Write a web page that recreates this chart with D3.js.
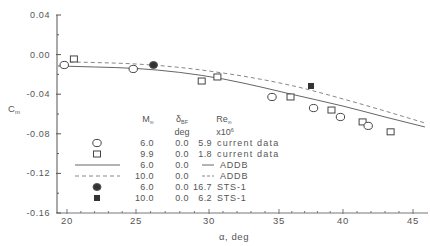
<!DOCTYPE html>
<html><head><meta charset="utf-8">
<script src="https://cdn.jsdelivr.net/npm/d3@7"></script>
<style>html,body{margin:0;padding:0;background:#fff}svg{display:block}text{font-family:"Liberation Sans",Arial,sans-serif;fill:#555}</style>
</head><body><div id="chart"></div>
<script>
// ---- data ----
const xTicks = [20, 25, 30, 35, 40, 45];
const xTickLabels = ["20", "25", "30", "35", "40", "45"];
const yTicks = [0.04, 0.00, -0.04, -0.08, -0.12, -0.16];
const yTickLabels = ["0.04", "0.00", "-0.04", "-0.08", "-0.12", "-0.16"];

// current data, M = 6.0 (open circles)
const m6Alpha = [19.8, 24.8, 34.5, 37.7, 39.8, 41.8];
const m6C     = [-0.0105, -0.0145, -0.0428, -0.054, -0.063, -0.072];
// current data, M = 9.9 (open squares)
const m99Alpha = [20.5, 29.5, 30.6, 35.9, 39.1, 41.4, 43.4];
const m99C     = [-0.0044, -0.0267, -0.0226, -0.0428, -0.056, -0.068, -0.078];
// ADDB M = 6.0 (solid)
const addb6Alpha = [19.35, 22.0, 25.0, 28.0, 31.0, 34.0, 35.9, 40.0, 43.0, 45.85];
const addb6C     = [-0.0115, -0.0125, -0.014, -0.018, -0.0246, -0.0337, -0.0398, -0.052, -0.063, -0.0731];
// ADDB M = 10.0 (dashed)
const addb10Alpha = [20.2, 22.0, 25.0, 28.0, 31.0, 34.0, 35.9, 40.0, 43.0, 45.85];
const addb10C     = [-0.0075, -0.008, -0.0095, -0.013, -0.0186, -0.0257, -0.031, -0.0448, -0.057, -0.0691];
// STS-1 flight
const sts6Alpha = [26.2], sts6C = [-0.0105];
const sts10Alpha = [37.5], sts10C = [-0.0317];

// legend table
const legM   = ["6.0", "9.9", "6.0", "10.0", "6.0", "10.0"];
const legD   = ["0.0", "0.0", "0.0", "0.0", "0.0", "0.0"];
const legRe  = ["5.9", "1.8", "", "", "16.7", "6.2"];
const legSrc = ["current data", "current data", "ADDB", "ADDB", "STS-1", "STS-1"];
const legSym = ["circle", "square", "solid", "dashed", "fcircle", "fsquare"];

// ---- drawing ----
const W = 430, H = 246;
const svg = d3.select("#chart").append("svg").attr("width", W).attr("height", H);
// x scale follows the (slightly uneven) tick spacing of the scanned figure
const x = d3.scaleLinear().domain([20, 25, 30, 35, 40, 45]).range([67, 136, 209, 279, 343, 413]);
const y = d3.scaleLinear().domain([0.04, -0.16]).range([15, 213]);
const axX = 57, axY = 213, xEnd = 428;
const ink = "#555";

// axes lines
svg.append("line").attr("x1", axX).attr("x2", axX).attr("y1", y(0.04)).attr("y2", axY).attr("stroke", ink).attr("stroke-width", 1);
svg.append("line").attr("x1", axX).attr("x2", xEnd).attr("y1", axY).attr("y2", axY).attr("stroke", "#777").attr("stroke-width", 1);

// y ticks
yTicks.forEach((v, i) => {
  svg.append("line").attr("x1", axX - 1).attr("x2", axX + 4).attr("y1", y(v)).attr("y2", y(v)).attr("stroke", ink);
  svg.append("text").attr("x", 50).attr("y", y(v) + 3).attr("text-anchor", "end")
    .attr("font-size", 9).attr("letter-spacing", 0.6).text(yTickLabels[i]);
});
d3.range(0.02, -0.16, -0.04).forEach(v => {
  svg.append("line").attr("x1", axX).attr("x2", axX + 2).attr("y1", y(v)).attr("y2", y(v)).attr("stroke", ink);
});

// x ticks
d3.range(20, 46, 1).forEach(v => {
  const major = v % 5 === 0;
  svg.append("line").attr("x1", x(v)).attr("x2", x(v))
    .attr("y1", axY - (major ? 4 : 2)).attr("y2", axY + (major ? 1 : 0)).attr("stroke", "#777");
});
xTicks.forEach((v, i) => {
  svg.append("text").attr("x", x(v)).attr("y", 224).attr("text-anchor", "middle")
    .attr("font-size", 9.5).attr("letter-spacing", 0.8).text(xTickLabels[i]);
});

// axis titles
svg.append("text").attr("x", 234).attr("y", 240).attr("text-anchor", "middle").attr("font-size", 9.5)
  .attr("letter-spacing", 0.6).text("α, deg");
const cl = svg.append("text").attr("x", 8).attr("y", 112).attr("font-size", 9.5);
cl.append("tspan").text("C");
cl.append("tspan").attr("font-size", 6).attr("dy", 2).text("m");

// curves
const lineGen = d3.line().x(d => x(d[0])).y(d => y(d[1])).curve(d3.curveMonotoneX);
svg.append("path").datum(d3.zip(addb6Alpha, addb6C)).attr("d", lineGen)
  .attr("fill", "none").attr("stroke", "#666").attr("stroke-width", 1);
svg.append("path").datum(d3.zip(addb10Alpha, addb10C)).attr("d", lineGen)
  .attr("fill", "none").attr("stroke", "#888").attr("stroke-width", 1).attr("stroke-dasharray", "4,3");

// markers
function drawSym(g, type, cx, cy) {
  if (type === "circle") g.append("ellipse").attr("cx", cx).attr("cy", cy).attr("rx", 4.2).attr("ry", 3.6).attr("fill", "#fff").attr("stroke", "#444").attr("stroke-width", 1);
  if (type === "square") g.append("rect").attr("x", cx - 3.5).attr("y", cy - 3).attr("width", 7).attr("height", 6).attr("fill", "#fff").attr("stroke", "#444").attr("stroke-width", 1);
  if (type === "fcircle") g.append("ellipse").attr("cx", cx).attr("cy", cy).attr("rx", 4).attr("ry", 3.5).attr("fill", "#333").attr("stroke", "#555");
  if (type === "fsquare") g.append("rect").attr("x", cx - 3).attr("y", cy - 3).attr("width", 6).attr("height", 6).attr("fill", "#333");
}
const mg = svg.append("g");
m99Alpha.forEach((a, i) => drawSym(mg, "square", x(a), y(m99C[i])));
m6Alpha.forEach((a, i) => drawSym(mg, "circle", x(a), y(m6C[i])));
sts6Alpha.forEach((a, i) => drawSym(mg, "fcircle", x(a), y(sts6C[i])));
sts10Alpha.forEach((a, i) => drawSym(mg, "fsquare", x(a), y(sts10C[i])));

// legend table
const lg = svg.append("g");
const fs = 9;
const h1 = lg.append("text").attr("x", 148).attr("y", 122).attr("text-anchor", "middle").attr("font-size", fs);
h1.append("tspan").text("M");
h1.append("tspan").attr("font-size", 5.5).attr("dy", 2).text("∞");
const h2 = lg.append("text").attr("x", 182).attr("y", 122).attr("text-anchor", "middle").attr("font-size", fs);
h2.append("tspan").text("δ");
h2.append("tspan").attr("font-size", 5.5).attr("dy", 2).text("BF");
const h3 = lg.append("text").attr("x", 224).attr("y", 122).attr("text-anchor", "middle").attr("font-size", fs);
h3.append("tspan").text("Re");
h3.append("tspan").attr("font-size", 5.5).attr("dy", 2).text("∞");
lg.append("text").attr("x", 182).attr("y", 135).attr("text-anchor", "middle").attr("font-size", fs).text("deg");
const h4 = lg.append("text").attr("x", 225).attr("y", 135).attr("text-anchor", "middle").attr("font-size", fs);
h4.append("tspan").text("x10");
h4.append("tspan").attr("font-size", 5.5).attr("dy", -3).text("6");

const rowY = d3.range(6).map(i => 143 + i * 11);
legSym.forEach((s, i) => {
  const cy = rowY[i];
  if (s === "solid" || s === "dashed") {
    lg.append("line").attr("x1", 75).attr("x2", 120).attr("y1", cy).attr("y2", cy)
      .attr("stroke", s === "solid" ? "#666" : "#888").attr("stroke-dasharray", s === "dashed" ? "4,3" : null);
    lg.append("line").attr("x1", 202).attr("x2", 214).attr("y1", cy).attr("y2", cy)
      .attr("stroke", s === "solid" ? "#666" : "#888").attr("stroke-dasharray", s === "dashed" ? "3,2" : null);
  } else {
    drawSym(lg, s, 97, cy);
  }
  lg.append("text").attr("x", 154).attr("y", cy + 3).attr("text-anchor", "end").attr("font-size", fs).attr("letter-spacing", 0.4).text(legM[i]);
  lg.append("text").attr("x", 182).attr("y", cy + 3).attr("text-anchor", "middle").attr("font-size", fs).attr("letter-spacing", 0.4).text(legD[i]);
  if (legRe[i]) lg.append("text").attr("x", 212).attr("y", cy + 3).attr("text-anchor", "end").attr("font-size", fs).attr("letter-spacing", 0.4).text(legRe[i]);
  lg.append("text").attr("x", legSrc[i] === "ADDB" ? 220 : 217).attr("y", cy + 3).attr("font-size", fs)
    .attr("letter-spacing", legSrc[i] === "current data" ? 1.2 : 0.8).text(legSrc[i]);
});
</script></body></html>
